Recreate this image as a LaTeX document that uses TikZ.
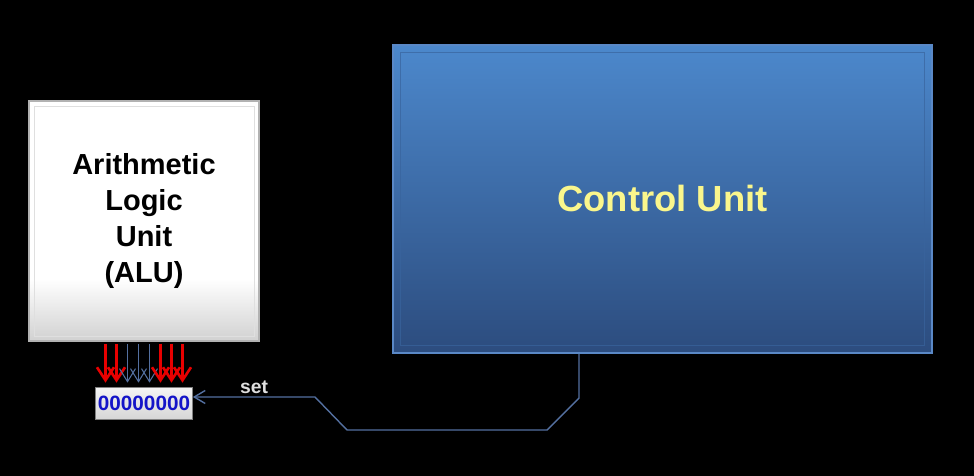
\documentclass[tikz,border=0pt]{standalone}
\usepackage{fontspec}
\setmainfont{Liberation Sans}
\usetikzlibrary{positioning,arrows.meta,calc}
\definecolor{cutop}{RGB}{76,136,204}
\definecolor{cubot}{RGB}{44,76,126}
\definecolor{cuedge}{RGB}{90,136,198}
\definecolor{cutext}{RGB}{250,246,140}
\definecolor{wire}{RGB}{84,112,160}
\definecolor{bitred}{RGB}{232,0,0}
\definecolor{regtext}{RGB}{20,20,200}
\pgfdeclareverticalshading{alushade}{100bp}{color(0bp)=(black!18); color(25bp)=(black!18); color(38bp)=(white); color(100bp)=(white)}

\begin{document}
\begin{tikzpicture}[x=0.02cm,y=-0.02cm,
  hot/.style={draw=bitred,line width=1.5pt,-{Straight Barb[length=2.6mm,width=3.4mm]}},
  cold/.style={draw=wire,line width=0.6pt,-{Straight Barb[length=2.6mm,width=3.2mm]}}]
  \fill[black] (0,0) rectangle (974,476);
  % the two units
  \node[draw=gray!60,line width=1pt,shading=alushade,
    minimum width=4.6cm,minimum height=4.8cm,inner sep=0pt,align=center,
    font=\bfseries\fontsize{16.5}{20.4}\selectfont] (alu) at (144,221) {Arithmetic\\Logic\\Unit\\(ALU)};
  \draw[gray!25] ($(alu.north west)+(6,6)$) rectangle ($(alu.south east)+(-6,-6)$);
  \node[draw=cuedge,line width=1pt,top color=cutop,bottom color=cubot,
    minimum width=10.78cm,minimum height=6.16cm,inner sep=0pt,text=cutext,
    font=\bfseries\fontsize{20.7}{24}\selectfont] (cu) at (662.5,199) {Control Unit};
  \draw[cubot!60!cutop,opacity=0.7] ($(cu.north west)+(8,8)$) rectangle ($(cu.south east)+(-8,-8)$);
  % flags register
  \node[draw=gray,top color=gray!8,bottom color=gray!32,minimum width=1.94cm,minimum height=0.64cm,
    inner sep=0pt,text=regtext,font=\bfseries\fontsize{11.8}{13}\selectfont] (reg) at (144,403) {00000000};
  \foreach \dx/\s in {-38.5/hot,-27.5/hot,-16.5/cold,-5.5/cold,5.5/cold,16.5/hot,27.5/hot,38.5/hot}{
    \draw[\s] ($(alu.south)+(\dx,2)$) -- ($(reg.north)+(\dx,-4)$);
  }
  \draw[wire,line width=0.8pt,-{Straight Barb[length=2.2mm,width=2.6mm]}]
    (cu.south -| 579,0) -- (579,398) -- (547,430) -- (347,430) -- (315,397) -- (reg.east |- 0,397);
  \node[text=gray!25,font=\bfseries\fontsize{11}{13}\selectfont] (setlbl) at (254,387) {set};
\end{tikzpicture}
\end{document}
